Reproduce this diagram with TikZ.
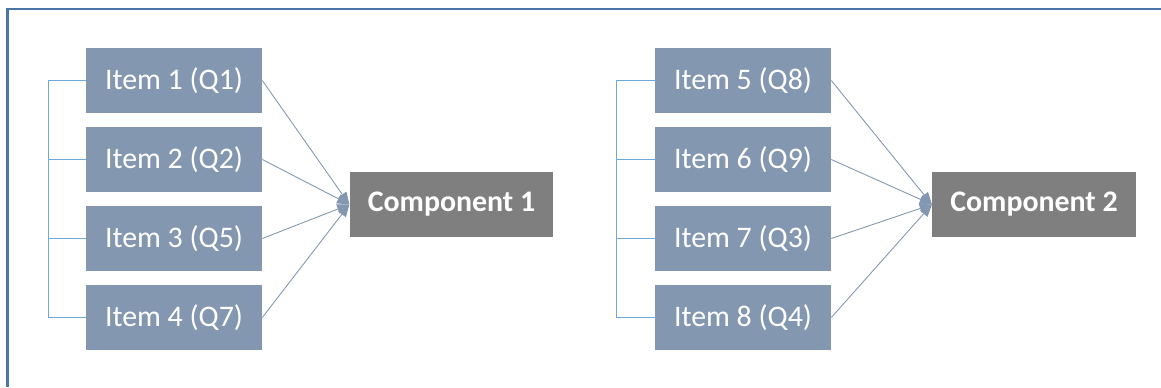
\documentclass[tikz,border=0pt]{standalone}
\usepackage{fontspec}
\setmainfont{Carlito}
\usetikzlibrary{arrows.meta}
\definecolor{itemfill}{HTML}{8497B0}
\definecolor{compfill}{HTML}{7F7F7F}
\definecolor{linkline}{HTML}{8497B0}
\definecolor{bracketline}{HTML}{6FA8DC}
\definecolor{framecol}{HTML}{4A76A4}

\begin{document}
\begin{tikzpicture}[x=0.02cm, y=-0.02cm,
  item/.style={fill=itemfill, text=white, minimum width=3.52cm, minimum height=1.3cm,
    inner sep=0pt, font=\fontsize{17}{20}\selectfont},
  comp/.style={fill=compfill, text=white, minimum width=4.07cm, minimum height=1.3cm,
    inner sep=0pt, font=\fontsize{17}{20}\selectfont\bfseries},
  link/.style={draw=linkline, line width=0.5pt, -{Triangle[length=7pt, width=5.5pt]}},
  bracket/.style={draw=bracketline, line width=0.6pt}]
  \useasboundingbox (0,0) rectangle (1161,387);

  % outer frame (runs off the right and bottom edge)
  \draw[framecol, line width=1.2pt] (7.5,387) -- (7.5,9) -- (1161,9);

  % first group
  \node[item] (item1) at (174,80.5) {Item 1 (Q1)};
  \node[item] (item2) at (174,159.5) {Item 2 (Q2)};
  \node[item] (item3) at (174,238.5) {Item 3 (Q5)};
  \node[item] (item4) at (174,317.5) {Item 4 (Q7)};
  \node[comp] (comp1) at (451.5,204.5) {Component 1};

  % second group
  \node[item] (item5) at (743,80.5) {Item 5 (Q8)};
  \node[item] (item6) at (743,159.5) {Item 6 (Q9)};
  \node[item] (item7) at (743,238.5) {Item 7 (Q3)};
  \node[item] (item8) at (743,317.5) {Item 8 (Q4)};
  \node[comp] (comp2) at (1034,204.5) {Component 2};

  % brackets on the left of each group
  \draw[bracket] (item1.west) -- ++(-37,0) |- (item4.west);
  \draw[bracket] (item2.west) -- ++(-37,0);
  \draw[bracket] (item3.west) -- ++(-37,0);
  \draw[bracket] (item5.west) -- ++(-38,0) |- (item8.west);
  \draw[bracket] (item6.west) -- ++(-38,0);
  \draw[bracket] (item7.west) -- ++(-38,0);

  % loadings
  \foreach \i in {1,...,4}
    \draw[link] (item\i.east) -- (comp1.west);
  \foreach \i in {5,...,8}
    \draw[link] (item\i.east) -- (comp2.west);
\end{tikzpicture}
\end{document}
